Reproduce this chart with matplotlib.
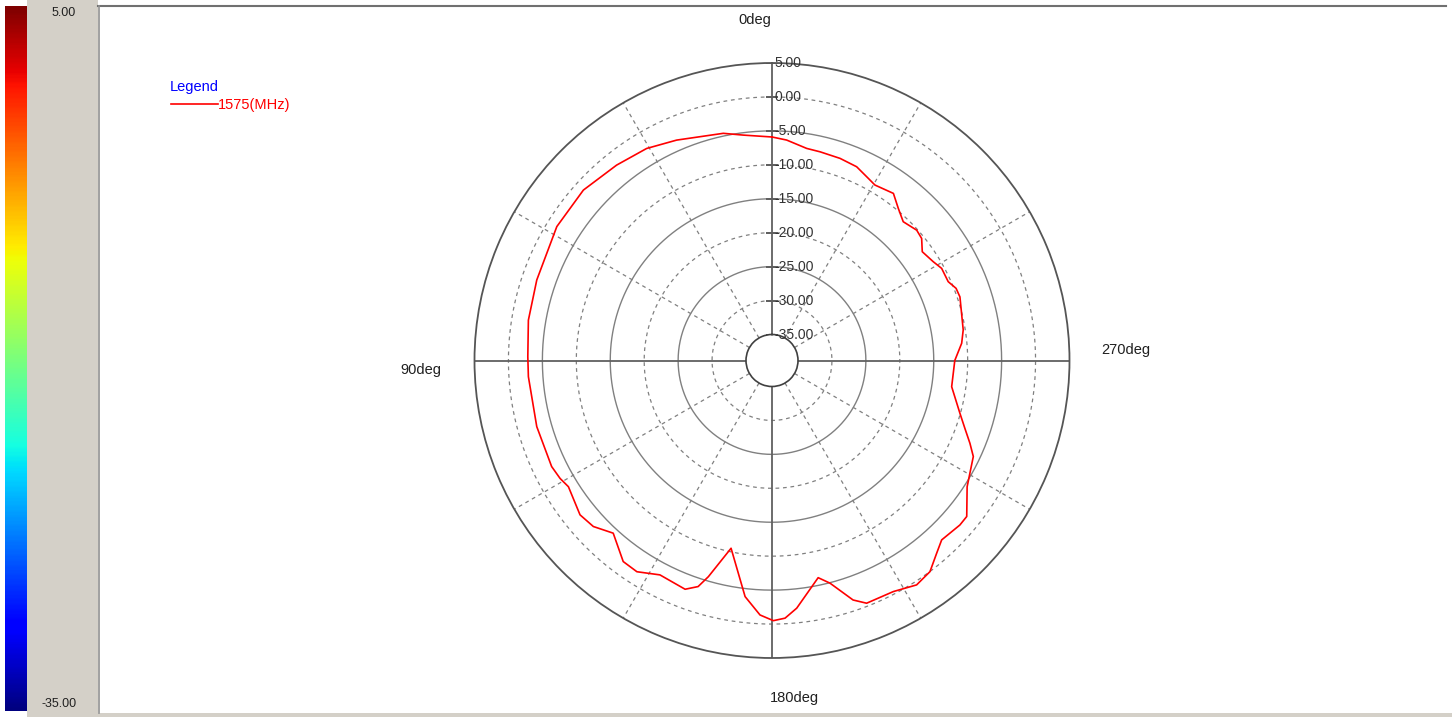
import numpy as np
import matplotlib.pyplot as plt
from matplotlib.patches import Rectangle
from matplotlib.lines import Line2D

# measured pattern, 1575 MHz (angle in deg, gain in dB)
angles = [0, 7.3, 12.1, 23.4, 30.6, 38.5, 47.9, 58.1, 71.1, 80.6, 89.1,
          93.8, 105.7, 115.7, 119.1, 121.8, 128.8, 132.9, 137.4, 143.5,
          147.4, 152.4, 159.2, 161.9, 163.6, 167.7, 173.5, 177.3, 180.3,
          182.9, 185.7, 192.0, 194.6, 198.7, 201.3, 207.7, 212.8, 216.8,
          220.5, 223.4, 228.8, 231.3, 237.1, 244.5, 247.3, 250.6, 254.3,
          261.7, 270.0, 275.2, 279.1, 288.7, 291.4, 294.1, 298.5, 301.5,
          305.9, 309.2, 312.0, 316.6, 320.3, 324.0, 329.6, 332.1, 336.4,
          341.4, 347.0, 350.7, 356.2]
gain = [-5.9, -5.35, -4.6, -3.45, -2.54, -2.05, -1.38, -1.49, -2.2, -2.45,
        -2.85, -2.86, -2.83, -2.8, -3.1, -3.54, -2.54, -2.9, -4.27, -1.98,
        -1.89, -3.19, -2.78, -3.79, -5.63, -10.52, -3.82, -1.3, -0.5,
        -0.82, -2.16, -6.12, -4.93, -1.58, -0.45, -0.38, 0.5, 0.02,
        -1.48, -2.45, -2.04, -2.07, -4.59, -5.97, -7.22, -8.7, -10.07,
        -12.08, -11.9, -10.77, -10.3, -9.6, -9.7, -10.39, -10.39, -10.97,
        -11.5, -10.38, -10.14, -10.69, -9.7, -8.4, -8.86, -8.48, -7.68,
        -7.41, -7.28, -7.17, -6.28]

r_min, r_max = -35, 5
solid_rings = [-25, -15, -5]
dashed_rings = [-30, -20, -10, 0]
ring_labels = [5, 0, -5, -10, -15, -20, -25, -30, -35]
spokes = [30, 60, 120, 150, 210, 240, 300, 330]
axes_deg = [0, 90, 180, 270]
cbar_min, cbar_max = -35.0, 5.0

W, H = 1452, 717


def fx(x):
    return x / W


def fy(y):
    return 1 - y / H


fig = plt.figure(figsize=(W / 100, H / 100), dpi=100)
fig.patch.set_facecolor("white")
plt.rcParams["font.family"] = ["Liberation Sans", "DejaVu Sans"]

# grey side panel and plot frame
fig.add_artist(Rectangle((fx(27), 0), fx(98) - fx(27), 1, transform=fig.transFigure,
                         facecolor="#d4d0c8", edgecolor="none", zorder=0))
fig.add_artist(Rectangle((fx(27), 0), fx(1452) - fx(27), fy(713), transform=fig.transFigure,
                         facecolor="#d4d0c8", edgecolor="none", zorder=0))
fig.add_artist(Line2D([fx(98), fx(1446)], [fy(5.5), fy(5.5)], transform=fig.transFigure,
                      color="#707070", lw=1.5))
fig.add_artist(Line2D([fx(98.5), fx(98.5)], [fy(5.5), fy(713)], transform=fig.transFigure,
                      color="#909090", lw=1.2))

# colour scale
cax = fig.add_axes([fx(5), fy(711), fx(27) - fx(5), fy(6) - fy(711)])
grad = np.linspace(cbar_max, cbar_min, 400)[:, None]
cax.imshow(grad, cmap="jet", vmin=cbar_min, vmax=cbar_max, aspect="auto")
cax.axis("off")
fig.text(fx(76), fy(13), "%.2f" % cbar_max, ha="right", va="center", fontsize=9, color="#202020")
fig.text(fx(77), fy(704), "%.2f" % cbar_min, ha="right", va="center", fontsize=9, color="#202020")

# polar plot
cx, cy, R = 772, 360.5, 297.5
ax = fig.add_axes([fx(cx - R), fy(cy + R), fx(2 * R), 2 * R / H], projection="polar")
ax.set_theta_zero_location("N")
ax.set_theta_direction(1)
ax.set_ylim(r_min, r_max)
ax.set_rorigin(r_min - (r_max - r_min) * 26 / (R - 26))
ax.grid(False)
ax.set_xticks([])
ax.set_yticks([])
ax.spines["polar"].set_color("#555555")
ax.spines["polar"].set_linewidth(1.3)
ax.spines["inner"].set_color("#404040")
ax.spines["inner"].set_linewidth(1.2)

th = np.linspace(0, 2 * np.pi, 721)
for r in solid_rings:
    ax.plot(th, np.full_like(th, r), color="#808080", lw=1.0)
for r in dashed_rings:
    ax.plot(th, np.full_like(th, r), color="#808080", lw=0.9, ls=(0, (3, 3)))
for a in spokes:
    ax.plot([np.radians(a)] * 2, [r_min, r_max], color="#808080", lw=0.9, ls=(0, (3, 3)))
for a in axes_deg:
    ax.plot([np.radians(a)] * 2, [r_min, r_max], color="#606060", lw=1.3)

ax.plot([0] * len(ring_labels), ring_labels, ls="none", marker="_", ms=8,
        mew=1.2, color="#606060")
for v in ring_labels:
    ax.annotate("%.2f" % v, xy=(0, v), xytext=(1.5, 0), textcoords="offset points",
                ha="left", va="center", fontsize=10, color="#333333")

t = np.radians(angles + [angles[0] + 360])
g = gain + [gain[0]]
ax.plot(t, g, color="red", lw=1.2)

# direction labels
fig.text(fx(738), fy(20), "0deg", ha="left", va="center", fontsize=10.5, color="#202020")
fig.text(fx(441), fy(370), "90deg", ha="right", va="center", fontsize=10.5, color="#202020")
fig.text(fx(1101), fy(350), "270deg", ha="left", va="center", fontsize=10.5, color="#202020")
fig.text(fx(770), fy(698), "180deg", ha="left", va="center", fontsize=10.5, color="#202020")

# legend
fig.text(fx(170), fy(87), "Legend", ha="left", va="center", fontsize=10.5, color="blue")
fig.add_artist(Line2D([fx(171), fx(218)], [fy(104), fy(104)], transform=fig.transFigure,
                      color="red", lw=1.2))
fig.text(fx(218), fy(105), "1575(MHz)", ha="left", va="center", fontsize=10.5, color="red")

fig.savefig("out.png", dpi=100)
